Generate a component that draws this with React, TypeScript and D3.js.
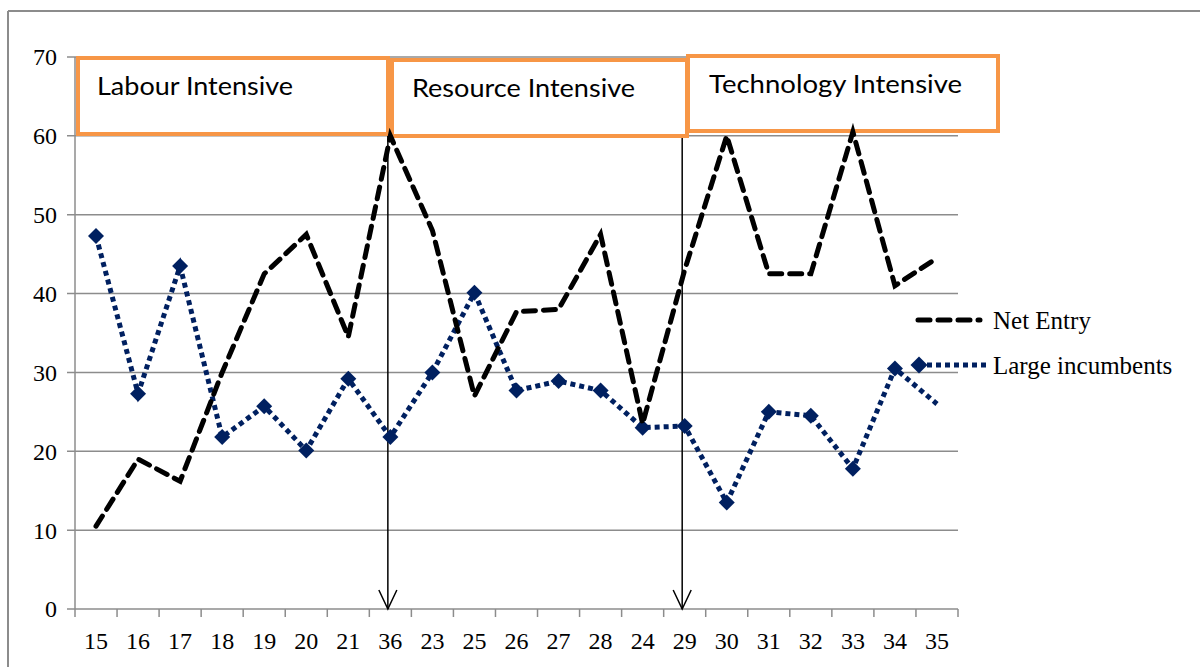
import React from "react";
import * as d3 from "d3";

const categories = ["15","16","17","18","19","20","21","36","23","25","26","27","28","24","29","30","31","32","33","34","35"];
const netEntry = [10.5,19,16.2,30,42.5,47.5,34.5,60,48,27,37.7,38,47.5,23.5,43,60,42.5,42.5,60.5,41,44.5];
const largeIncumbents = [47.3,27.3,43.5,21.8,25.7,20.1,29.2,21.8,30,40.1,27.7,28.9,27.7,23,23.2,13.5,25,24.5,17.8,30.5,26];
const yTicks = [0,10,20,30,40,50,60,70];
const arrowCats = ["36","29"];
const boxLabels = ["Labour Intensive","Resource Intensive","Technology Intensive"];
const seriesNames = ["Net Entry","Large incumbents"];

const W = 1200, H = 667;
const serif = "'Liberation Serif', 'Times New Roman', serif";
const NAVY = "#002060";
const ORANGE = "#F79646";
const GRID = "#8c8c8c";

export default function App() {
  const x = d3.scaleBand<string>().domain(categories).range([75, 958]);
  const y = d3.scaleLinear().domain([0, 70]).range([609, 57]);
  const cx = (c: string) => (x(c) as number) + x.bandwidth() / 2;
  const line = d3.line<number>().x((_, i) => cx(categories[i])).y(d => y(d));

  const boxes = [
    { x0: 78, x1: 388, y0: 58, y1: 134, tx: 97, ty: 95, tl: 196 },
    { x0: 392, x1: 687, y0: 60, y1: 136, tx: 412, ty: 97, tl: 223 },
    { x0: 688, x1: 998, y0: 56, y1: 131, tx: 709, ty: 93, tl: 253 },
  ];

  const diamond = (px: number, py: number, r: number) =>
    `M${px},${py - r}L${px + r},${py}L${px},${py + r}L${px - r},${py}Z`;

  return (
    <svg width={W} height={H} style={{ position: "absolute", left: 0, top: 0, background: "#fff" }}>
      {/* outer frame */}
      <line x1={8} x2={1200} y1={11} y2={11} stroke={GRID} strokeWidth={2} />
      <line x1={8} x2={8} y1={11} y2={667} stroke={GRID} strokeWidth={2} />

      {/* gridlines */}
      {yTicks.map(t => (
        <g key={t}>
          <line x1={67} x2={958} y1={y(t)} y2={y(t)} stroke={GRID} strokeWidth={1.5} />
          <text x={57} y={y(t)} dy="0.35em" textAnchor="end" fontFamily={serif} fontSize={24} fill="#000">{t}</text>
        </g>
      ))}
      <line x1={75} x2={75} y1={y(70)} y2={y(0)} stroke={GRID} strokeWidth={1.5} />
      {/* x ticks */}
      {categories.map(c => (
        <line key={"t" + c} x1={x(c) as number} x2={x(c) as number} y1={y(0)} y2={y(0) + 8} stroke={GRID} strokeWidth={1.5} />
      ))}
      <line x1={958} x2={958} y1={y(0)} y2={y(0) + 8} stroke={GRID} strokeWidth={1.5} />
      {categories.map(c => (
        <text key={"l" + c} x={cx(c)} y={649} textAnchor="middle" fontFamily={serif} fontSize={24} fill="#000">{c}</text>
      ))}

      {/* arrows */}
      {arrowCats.map(c => {
        const ax = cx(c) - 2.5;
        return (
          <g key={"a" + c} stroke="#000" strokeWidth={1.5} fill="none">
            <line x1={ax} x2={ax} y1={y(70) + 2} y2={y(0)} />
            <path d={`M${ax - 9},${y(0) - 19}L${ax},${y(0)}L${ax + 9},${y(0) - 19}`} />
          </g>
        );
      })}

      {/* boxes */}
      {boxes.map((b, i) => (
        <g key={"b" + i}>
          <rect x={b.x0} y={b.y0} width={b.x1 - b.x0} height={b.y1 - b.y0} fill="#fff" stroke={ORANGE} strokeWidth={4} />
          <text x={b.tx} y={b.ty} fontFamily="Lato, 'Open Sans', sans-serif" fontSize={25} fill="#000"
            textLength={b.tl} lengthAdjust="spacingAndGlyphs">{boxLabels[i]}</text>
        </g>
      ))}

      {/* series */}
      <path d={line(largeIncumbents) as string} fill="none" stroke={NAVY} strokeWidth={5} strokeDasharray="5 4" />
      {largeIncumbents.slice(0, largeIncumbents.length - 1).map((v, i) => (
        <path key={"m" + i} d={diamond(cx(categories[i]), y(v), 8)} fill={NAVY} />
      ))}
      <path d={line(netEntry) as string} fill="none" stroke="#000" strokeWidth={5} strokeDasharray="12 8" strokeLinecap="round" />

      {/* legend */}
      <line x1={918} x2={980} y1={320} y2={320} stroke="#000" strokeWidth={5} strokeDasharray="12 8" strokeLinecap="round" />
      <text x={993} y={320} dy="0.35em" fontFamily={serif} fontSize={25} fill="#000">{seriesNames[0]}</text>
      <line x1={918} x2={987} y1={365} y2={365} stroke={NAVY} strokeWidth={5} strokeDasharray="5 4" />
      <path d={diamond(919, 365, 8.5)} fill={NAVY} />
      <text x={993} y={365} dy="0.35em" fontFamily={serif} fontSize={25} fill="#000">{seriesNames[1]}</text>
    </svg>
  );
}
